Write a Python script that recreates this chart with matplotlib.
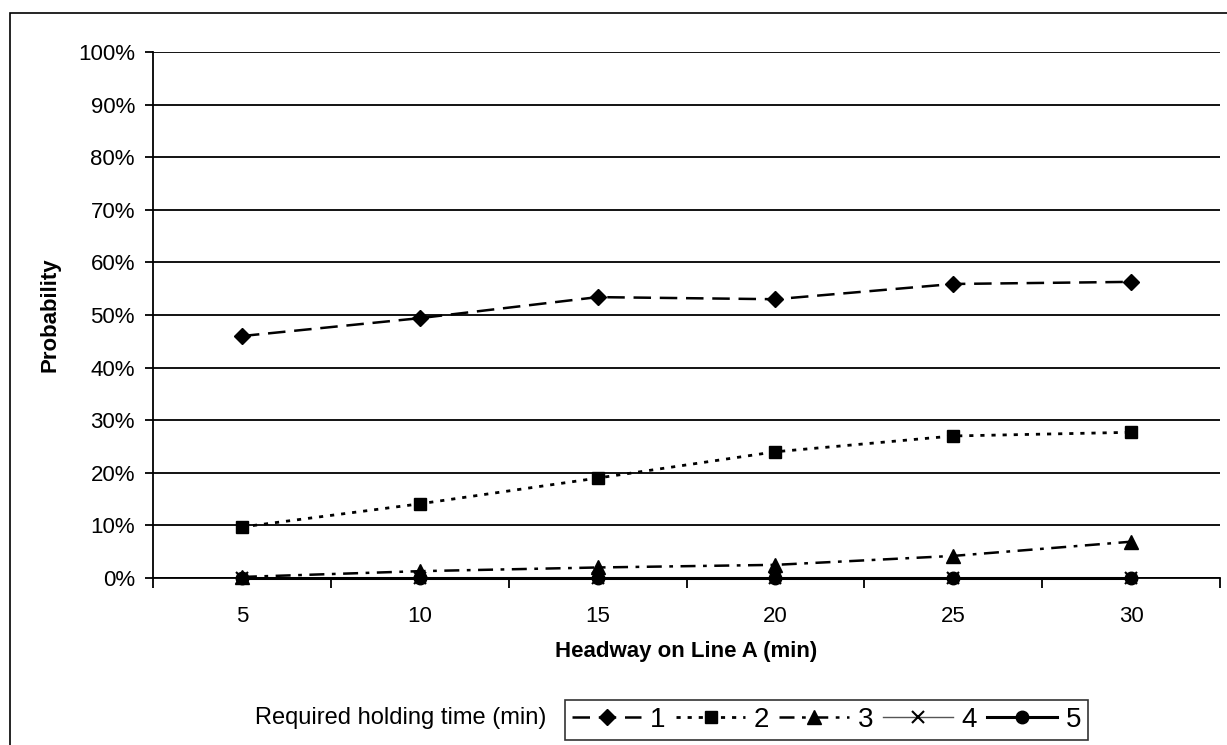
import matplotlib.pyplot as plt
from matplotlib.patches import Rectangle
from matplotlib.ticker import PercentFormatter

plt.rcParams['font.family'] = ['Liberation Sans', 'DejaVu Sans']

headway = [5, 10, 15, 20, 25, 30]
hold_labels = ['1', '2', '3', '4', '5']
p_hold1 = [0.460, 0.494, 0.534, 0.530, 0.559, 0.563]
p_hold2 = [0.097, 0.141, 0.190, 0.240, 0.270, 0.277]
p_hold3 = [0.002, 0.013, 0.020, 0.025, 0.042, 0.069]
p_hold4 = [0.0, 0.0, 0.0, 0.0, 0.0, 0.0]
p_hold5 = [0.0, 0.0, 0.0, 0.0, 0.0, 0.0]

W, H = 1227, 745
fig = plt.figure(figsize=(W / 100, H / 100), dpi=100)
ax = fig.add_axes([153 / W, 1 - 578 / H, 1067 / W, 526 / H])

# outer chart frame
fig.patches.append(Rectangle((10 / W, -0.05), 1.2, 1 - 13 / H + 0.05,
                             transform=fig.transFigure, fill=False,
                             edgecolor='black', linewidth=1.2))

styles = [
    dict(ls=(0, (7, 3.5)), marker='D', ms=8, lw=1.8, color='black'),
    dict(ls=(0, (1.5, 2.5)), marker='s', ms=8, lw=2.0, color='black'),
    dict(ls=(0, (6, 3, 1.5, 3)), marker='^', ms=10, lw=1.8, color='black'),
    dict(ls='-', marker='x', ms=9, lw=1.0, color='#555555', mew=1.5),
    dict(ls='-', marker='o', ms=9, lw=2.2, color='black'),
]
series = [p_hold1, p_hold2, p_hold3, p_hold4, p_hold5]
for vals, lab, st in zip(series, hold_labels, styles):
    ax.plot(headway, vals, label=lab, markerfacecolor='black',
            markeredgecolor='black', clip_on=False, **st)

ax.set_xlim(2.5, 32.5)
ax.set_ylim(0, 1.0)
ax.set_yticks([i / 10 for i in range(11)])
ax.yaxis.set_major_formatter(PercentFormatter(1.0, decimals=0))
ax.grid(axis='y', color='black', linewidth=1.3)
ax.set_axisbelow(True)

ax.set_xticks(headway)
ax.set_xticks([2.5 + 5 * i for i in range(7)], minor=True)
ax.tick_params(axis='x', which='major', length=0, pad=20, labelsize=16)
ax.tick_params(axis='x', which='minor', length=7, width=1.3, direction='out')
ax.tick_params(axis='y', length=6, width=1.3, direction='out', pad=7, labelsize=16)

for s in ['top', 'right']:
    ax.spines[s].set_visible(False)
for s in ['left', 'bottom']:
    ax.spines[s].set_linewidth(1.3)

ax.set_xlabel('Headway on Line A (min)', fontsize=16, fontweight='bold', va='center')
ax.xaxis.set_label_coords(0.5, (578 - 652) / 526)
ax.set_ylabel('Probability', fontsize=16, fontweight='bold', va='center')
ax.yaxis.set_label_coords((50 - 153) / 1067, 0.5)

fig.text(255 / W, 1 - 718 / H, 'Required holding time (min)',
         fontsize=17, va='center', ha='left')
leg = fig.legend(loc='center left', bbox_to_anchor=(565 / W, 1 - 720 / H),
                 ncol=5, frameon=True, fancybox=False, fontsize=20,
                 handlelength=2.5, handletextpad=0.32, columnspacing=0.36,
                 borderpad=0.25, borderaxespad=0)
leg.get_frame().set_edgecolor('black')
leg.get_frame().set_linewidth(1.2)

fig.savefig('out.png', dpi=100)
